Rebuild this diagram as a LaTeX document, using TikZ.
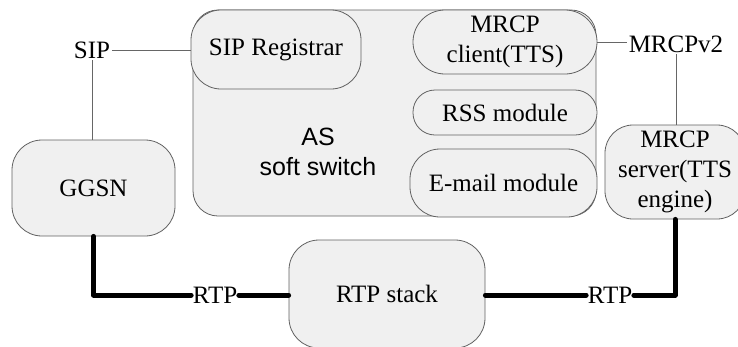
\documentclass[tikz,border=0pt]{standalone}
\usepackage{fontspec}
\setmainfont{Liberation Serif}
\newfontfamily\arialf{Liberation Sans}
\begin{document}
\begin{tikzpicture}[x=1pt,y=-1pt, font=\fontsize{25}{30}\selectfont,
  box/.style={draw=black!62, fill=black!6, line width=0.8pt, align=center, inner sep=0pt},
  lbl/.style={inner sep=1.5pt},
  thinline/.style={draw=black!60, line width=0.8pt},
  thickline/.style={line width=5pt, line cap=round, line join=round}]
\useasboundingbox (0,0) rectangle (738,346);
\clip (0,0) rectangle (738,346);
% AS soft switch container
\node[box, rounded corners=25pt, minimum width=403pt, minimum height=206pt] (as) at (394.5,113) {};
\node[font=\arialf\fontsize{25}{30}\selectfont, align=center, inner sep=0pt] (astext) at (318,152) {AS\\soft switch};
% inner modules
\node[box, rounded corners=30pt, minimum width=170pt, minimum height=79pt] (reg) at (276,49.5) {SIP Registrar};
\node[box, rounded corners=32pt, minimum width=184pt, minimum height=64pt] (mc) at (505,42) {MRCP\\client(TTS)};
\node[box, rounded corners=22pt, minimum width=184pt, minimum height=45pt] (rss) at (505,112.5) {RSS module};
\node[box, rounded corners=30pt, minimum width=187pt, minimum height=68pt] (mail) at (503.5,183) {E-mail module};
% outer boxes
\node[box, rounded corners=28pt, minimum width=140pt, minimum height=94pt] (srv) at (675,172) {MRCP\\server(TTS\\engine)};
\node[box, rounded corners=30pt, minimum width=163pt, minimum height=96pt] (ggsn) at (93.5,188) {GGSN};
\node[box, rounded corners=30pt, minimum width=196pt, minimum height=108pt] (stack) at (387,294) {RTP stack};
% labels
\node[lbl] (sip) at (92,50) {SIP};
\node[lbl] (mv2) at (676,44) {MRCPv2};
\node[lbl] (rtp1) at (215,295) {RTP};
\node[lbl] (rtp2) at (610,295) {RTP};
% thin connectors
\draw[thinline] (sip.east) -- (sip.east -| reg.west);
\draw[thinline] (sip.south) -- (sip.south |- ggsn.north);
\draw[thinline] (mc.east) -- (mc.east -| mv2.west);
\draw[thinline] (mv2.south) -- (mv2.south |- srv.north);
% thick RTP connectors
\draw[thickline] (ggsn.south) |- (rtp1.west);
\draw[thickline] (rtp1.east) -- (stack.west |- rtp1.east);
\draw[thickline] (stack.east |- rtp2.west) -- (rtp2.west);
\draw[thickline] (rtp2.east) -| (srv.south);
\end{tikzpicture}
\end{document}
